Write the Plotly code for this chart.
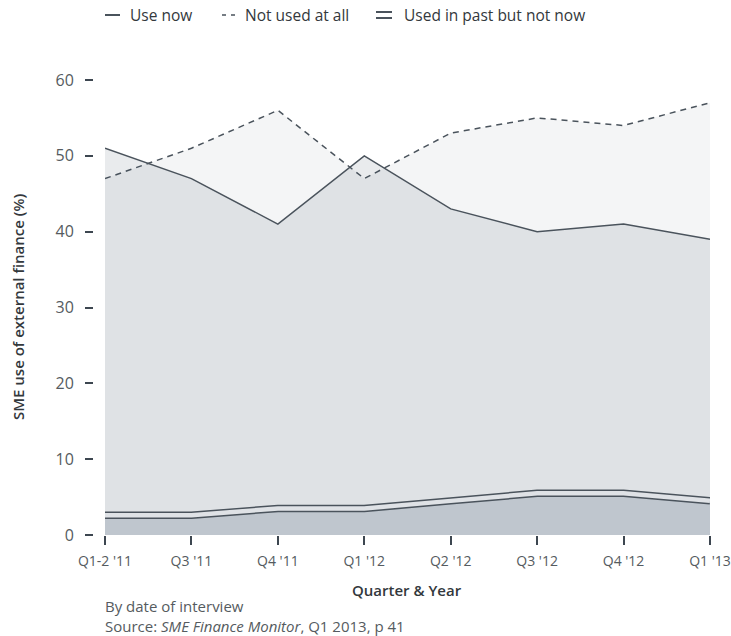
import plotly.graph_objects as go

# Survey quarters
quarters = ["Q1-2 '11", "Q3 '11", "Q4 '11", "Q1 '12", "Q2 '12", "Q3 '12", "Q4 '12", "Q1 '13"]

# Share of SMEs (%) by use of external finance
use_now = [51, 47, 41, 50, 43, 40, 41, 39]
not_used_at_all = [47, 51, 56, 47, 53, 55, 54, 57]
used_in_past = [2.6, 2.6, 3.5, 3.5, 4.5, 5.5, 5.5, 4.5]

y_ticks = [0, 10, 20, 30, 40, 50, 60]

W, H = 731, 636
ML, MR, MT, MB = 93, 21, 80, 101
PW, PH = W - ML - MR, H - MT - MB

FONT = "Open Sans"
LINE = "#4a535c"
TICK = "#3d4650"
TEXT = "#555b60"
TITLE = "#33383c"


def px(x):
    return (x - ML) / PW


def py(y):
    return (H - MB - y) / PH


fig = go.Figure()

fig.add_trace(go.Scatter(
    x=quarters, y=not_used_at_all, mode="lines", fill="tozeroy",
    fillcolor="rgba(60,75,95,0.055)",
    line=dict(color=LINE, width=1.5, dash="6px,5px"),
    hoverinfo="skip", showlegend=False,
))
fig.add_trace(go.Scatter(
    x=quarters, y=use_now, mode="lines", fill="tozeroy",
    fillcolor="rgba(60,75,95,0.115)",
    line=dict(color=LINE, width=1.5),
    hoverinfo="skip", showlegend=False,
))
# Double line: dark outer stroke with a light core
fig.add_trace(go.Scatter(
    x=quarters, y=used_in_past, mode="lines", fill="tozeroy",
    fillcolor="#bfc6ce",
    line=dict(color=LINE, width=7.5),
    hoverinfo="skip", showlegend=False,
))
fig.add_trace(go.Scatter(
    x=quarters, y=used_in_past, mode="lines",
    line=dict(color="#dfe2e6", width=4.5),
    hoverinfo="skip", showlegend=False,
))

# Legend drawn at the top
shapes = []
annotations = []
ly = 15
shapes.append(dict(type="line", xref="paper", yref="paper",
                   x0=px(105), x1=px(120), y0=py(ly), y1=py(ly),
                   line=dict(color=LINE, width=2)))
shapes.append(dict(type="line", xref="paper", yref="paper",
                   x0=px(222), x1=px(237), y0=py(ly), y1=py(ly),
                   line=dict(color=LINE, width=1.5, dash="4px,5px")))
for dy in (-3, 3):
    shapes.append(dict(type="line", xref="paper", yref="paper",
                       x0=px(376), x1=px(392), y0=py(ly + dy), y1=py(ly + dy),
                       line=dict(color=LINE, width=2)))
for label, x0 in (("Use now", 128), ("Not used at all", 243), ("Used in past but not now", 402)):
    annotations.append(dict(text=label, xref="paper", yref="paper",
                            x=px(x0), y=py(ly), xanchor="left", yanchor="middle",
                            showarrow=False, font=dict(family=FONT, size=15.5, color=TITLE)))

# Axis titles
annotations.append(dict(text="SME use of external finance (%)", xref="paper", yref="paper",
                        x=px(18), y=py(307), xanchor="center", yanchor="middle", textangle=-90,
                        showarrow=False, font=dict(family=FONT, size=15, weight=600, color=TITLE)))
annotations.append(dict(text="Quarter &amp; Year", xref="paper", yref="paper",
                        x=px(407), y=py(590), xanchor="center", yanchor="middle",
                        showarrow=False, font=dict(family=FONT, size=15, weight=600, color=TITLE)))

# Footer notes
annotations.append(dict(text="By date of interview<br>Source: <i>SME Finance Monitor</i>, Q1 2013, p 41",
                        xref="paper", yref="paper", align="left",
                        x=px(103), y=py(616), xanchor="left", yanchor="middle",
                        showarrow=False, font=dict(family=FONT, size=15, color=TEXT)))

fig.update_layout(
    width=W, height=H,
    margin=dict(l=ML, r=MR, t=MT, b=MB, pad=0, autoexpand=False),
    paper_bgcolor="white", plot_bgcolor="white",
    showlegend=False,
    font=dict(family=FONT, size=14, color=TEXT),
    shapes=shapes, annotations=annotations,
    xaxis=dict(
        type="category", domain=[px(105), 1], range=[0, len(quarters) - 1],
        automargin=False,
        showgrid=False, zeroline=False, showline=False,
        ticks="outside", ticklen=9, tickwidth=2, tickcolor=TICK,
        ticklabelstandoff=4,
        tickfont=dict(family=FONT, size=14, color=TEXT),
    ),
    yaxis=dict(
        anchor="free", position=0, range=[0, 60], tickvals=y_ticks,
        automargin=False,
        showgrid=False, zeroline=False, showline=False,
        ticks="outside", ticklen=8, tickwidth=2, tickcolor=TICK,
        ticklabelstandoff=8,
        tickfont=dict(family=FONT, size=16, color=TEXT),
    ),
)

fig.write_html("out.html")
